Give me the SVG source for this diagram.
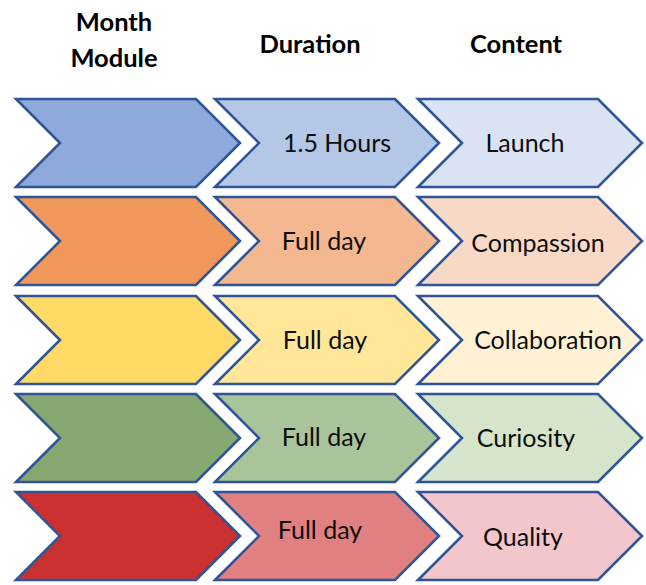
<svg xmlns="http://www.w3.org/2000/svg" width="646" height="585" viewBox="0 0 646 585">
  <style>
    .hd { font-family: Lato, "Liberation Sans", sans-serif; font-weight: bold; font-size: 25.5px; fill: #000; text-anchor: middle; }
    .lb { font-family: Lato, "Liberation Sans", sans-serif; font-size: 25px; fill: #0d0d0d; text-anchor: middle; }
    .chev { stroke: #2F5597; stroke-width: 2.6; stroke-linejoin: miter; }
  </style>
  <defs>
    <!-- chevron: 180 body + 44 point, 88 tall -->
    <polygon id="chev" points="0,0 180,0 224,44 180,88 0,88 44,44"/>
  </defs>
  <rect width="646" height="585" fill="#fff"/>

  <g id="headers">
    <text class="hd" x="114" y="31">Month</text>
    <text class="hd" x="114" y="67">Module</text>
    <text class="hd" x="310" y="53">Duration</text>
    <text class="hd" x="516" y="53">Content</text>
  </g>

  <g id="connectors"></g>

  <!-- row 1 -->
  <g id="r1-module"><use href="#chev" class="chev" x="16" y="99" fill="#8EA9DB"/></g>
  <g id="r1-duration"><use href="#chev" class="chev" x="215" y="99" fill="#B4C7E7"/><text class="lb" x="337" y="152">1.5 Hours</text></g>
  <g id="r1-content"><use href="#chev" class="chev" x="418" y="99" fill="#DAE3F3"/><text class="lb" x="525" y="152">Launch</text></g>

  <!-- row 2 -->
  <g id="r2-module"><use href="#chev" class="chev" x="16" y="197" fill="#F0975B"/></g>
  <g id="r2-duration"><use href="#chev" class="chev" x="215" y="197" fill="#F4B890"/><text class="lb" x="324" y="250">Full day</text></g>
  <g id="r2-content"><use href="#chev" class="chev" x="418" y="197" fill="#F8D9C6"/><text class="lb" x="538" y="252">Compassion</text></g>

  <!-- row 3 -->
  <g id="r3-module"><use href="#chev" class="chev" x="16" y="296" fill="#FFD966"/></g>
  <g id="r3-duration"><use href="#chev" class="chev" x="215" y="296" fill="#FFE699"/><text class="lb" x="325" y="349">Full day</text></g>
  <g id="r3-content"><use href="#chev" class="chev" x="418" y="296" fill="#FFF2D4"/><text class="lb" x="548" y="349">Collaboration</text></g>

  <!-- row 4 -->
  <g id="r4-module"><use href="#chev" class="chev" x="16" y="394" fill="#87A670"/></g>
  <g id="r4-duration"><use href="#chev" class="chev" x="215" y="394" fill="#A9C49A"/><text class="lb" x="324" y="446">Full day</text></g>
  <g id="r4-content"><use href="#chev" class="chev" x="418" y="394" fill="#D6E4CB"/><text class="lb" x="526" y="447">Curiosity</text></g>

  <!-- row 5 -->
  <g id="r5-module"><use href="#chev" class="chev" x="16" y="492" fill="#CC3131"/></g>
  <g id="r5-duration"><use href="#chev" class="chev" x="215" y="492" fill="#E08080"/><text class="lb" x="320" y="539">Full day</text></g>
  <g id="r5-content"><use href="#chev" class="chev" x="418" y="492" fill="#F2C6CB"/><text class="lb" x="523" y="546">Quality</text></g>
</svg>
